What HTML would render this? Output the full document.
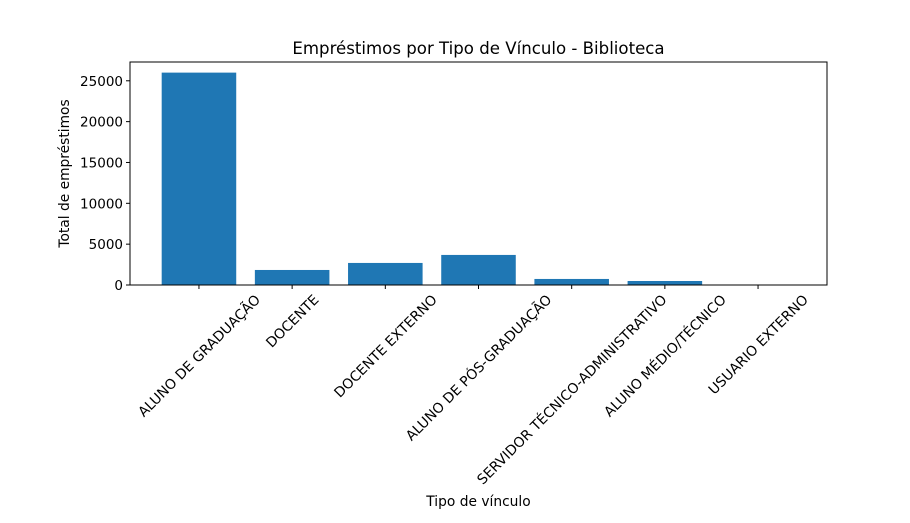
<!DOCTYPE html>
<html><head><meta charset="utf-8"><style>
body{margin:0;background:#fff}
svg{display:block;font-family:"DejaVu Sans","Liberation Sans",sans-serif}
</style></head><body>
<svg id="c" width="910" height="523">
<text x="478.5" y="54" font-size="16.6" text-anchor="middle">Empréstimos por Tipo de Vínculo - Biblioteca</text>
<text x="478.5" y="506" font-size="13.8" text-anchor="middle">Tipo de vínculo</text>
<text transform="translate(69,173.5) rotate(-90)" font-size="13.8" text-anchor="middle">Total de empréstimos</text>
<g id="g"></g>
<rect x="130" y="62" width="697" height="223" fill="none" stroke="#000" stroke-width="1"/>
</svg>
<script>
const categories=["ALUNO DE GRADUAÇÃO","DOCENTE","DOCENTE EXTERNO","ALUNO DE PÓS-GRADUAÇÃO","SERVIDOR TÉCNICO-ADMINISTRATIVO","ALUNO MÉDIO/TÉCNICO","USUARIO EXTERNO"];
const values=[26000,1840,2700,3680,740,490,10];
const yTicks=[0,5000,10000,15000,20000,25000];
const ns="http://www.w3.org/2000/svg",g=document.getElementById('g');
const L=130,R=827,T=62,B=285;
const yMax=Math.max(...values)*1.05;
const y=v=>B-v/yMax*(B-T);
const x0=-0.74,x1=categories.length-1+0.74;
const x=i=>L+(i-x0)/(x1-x0)*(R-L);
const bw=0.8*(R-L)/(x1-x0);
function mk(t,a){const e=document.createElementNS(ns,t);for(const k in a)e.setAttribute(k,a[k]);g.appendChild(e);return e;}
values.forEach((v,i)=>{
 const r=mk('rect',{x:x(i)-bw/2,y:y(v),width:bw,height:B-y(v),fill:'#1f77b4'});
 
 
});
yTicks.forEach(t=>{
 const l=mk('line',{x1:L-4,x2:L,y1:y(t),y2:y(t),stroke:'#000'});
 
 
 const s=mk('text',{x:L-7,y:y(t)+5,'font-size':13.5,'text-anchor':'end'});
 s.textContent=t;
 
 
});
categories.forEach((c,i)=>{
 const l=mk('line',{x1:x(i),x2:x(i),y1:B,y2:B+4,stroke:'#000'});
 
 
 const s=mk('text',{'font-size':13.9,'text-anchor':'middle'});
 s.textContent=c;
 
 
 const w=s.getComputedTextLength();
 const h=(w*0.7071+14*0.7071)/2;
 const cy=292+h;
 s.setAttribute('transform','translate('+x(i)+','+cy+') rotate(-45) translate(0,5)');
});
</script>
</body></html>
